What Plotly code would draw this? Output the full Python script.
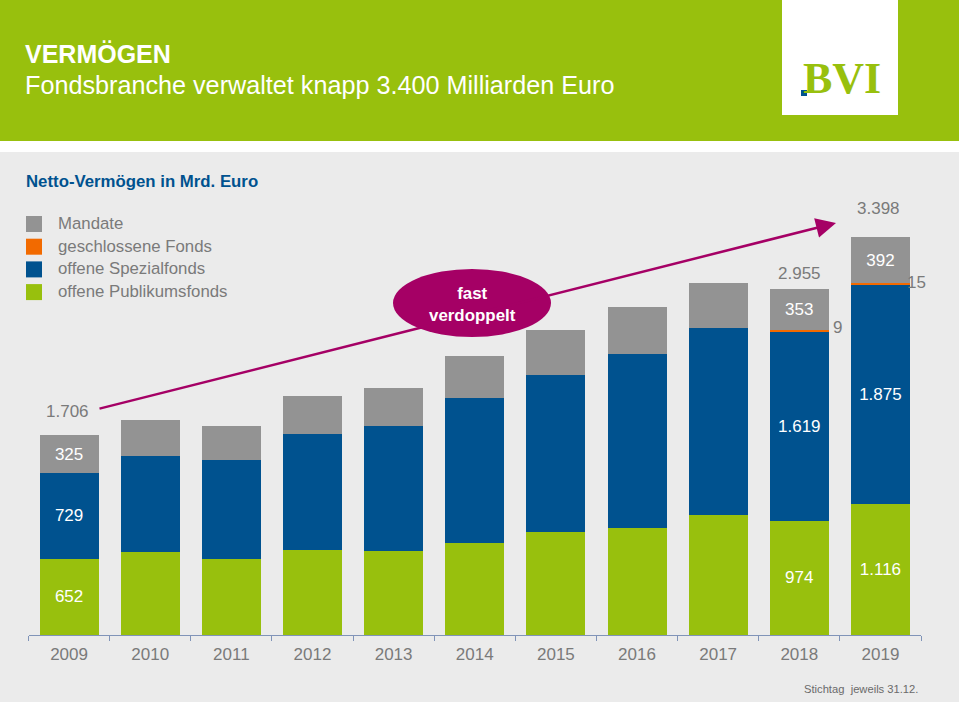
import plotly.graph_objs as go

years = ["2009", "2010", "2011", "2012", "2013", "2014", "2015", "2016", "2017", "2018", "2019"]
publikum = [652, 709, 650, 726, 717, 786, 880, 914, 1025, 974, 1116]
spezial = [729, 820, 845, 990, 1068, 1238, 1341, 1486, 1597, 1619, 1875]
geschlossen = [0, 0, 0, 0, 0, 0, 0, 0, 0, 9, 15]
mandate = [325, 307, 290, 325, 325, 359, 384, 400, 384, 353, 392]
legend_names = ["Mandate", "geschlossene Fonds", "offene Spezialfonds", "offene Publikumsfonds"]
labelled_years = ["2009", "2018", "2019"]

GREEN = "#98C00D"
BLUE = "#00528F"
ORANGE = "#F26A00"
GREY = "#939393"
PURPLE = "#A50065"
TEXT = "#7A7A7A"
FONT = "Liberation Sans"
W, H = 959, 704


def px(x):
    return x / W


def py(y):
    return 1 - y / H


def fmt(v):
    return f"{v:,}".replace(",", ".")


def labels(values):
    return [fmt(v) if y in labelled_years else "" for y, v in zip(years, values)]


def text_at(x, y, text, size, color=TEXT, bold=False, anchor="left"):
    # annotations carry about 2px of padding, take it back out
    nudge = {"left": -2, "right": 2, "center": 0}[anchor]
    return dict(x=px(x + nudge), y=py(y), xref="paper", yref="paper", xanchor=anchor, yanchor="middle",
                text=f"<b>{text}</b>" if bold else text, showarrow=False,
                font=dict(family=FONT, size=size, color=color))


fig = go.Figure()
for name, values, color in [("offene Publikumsfonds", publikum, GREEN),
                            ("offene Spezialfonds", spezial, BLUE),
                            ("geschlossene Fonds", geschlossen, ORANGE),
                            ("Mandate", mandate, GREY)]:
    show_text = name != "geschlossene Fonds"
    fig.add_trace(go.Bar(
        x=years, y=values, name=name, marker=dict(color=color, line=dict(width=0)),
        text=labels(values) if show_text else None,
        textposition="inside" if show_text else "none", insidetextanchor="middle", textangle=0,
        constraintext="none", insidetextfont=dict(family=FONT, size=17, color="white")))

# header, panel and logo
shapes = [
    dict(type="rect", x0=0, x1=1, y0=py(141), y1=1, fillcolor=GREEN),
    dict(type="rect", x0=0, x1=1, y0=py(702), y1=py(152), fillcolor="#EBEBEB"),
    dict(type="rect", x0=px(782), x1=px(898), y0=py(115), y1=1, fillcolor="white"),
    dict(type="rect", x0=px(801), x1=px(807), y0=py(96), y1=py(90), fillcolor=BLUE),
]
shapes = [dict(s, xref="paper", yref="paper", layer="below", line=dict(width=0)) for s in shapes]

annotations = [
    text_at(25, 54, "VERMÖGEN", 25, "white", bold=True),
    text_at(25, 85, "Fondsbranche verwaltet knapp 3.400 Milliarden Euro", 25.2, "white"),
    dict(text_at(842, 78, "BVI", 44, GREEN, bold=True, anchor="center"),
         font=dict(family="Liberation Serif", size=44, color=GREEN)),
    text_at(26, 181, "Netto-Vermögen in Mrd. Euro", 16.8, BLUE, bold=True),
    text_at(918, 689, "Stichtag  jeweils 31.12.", 11.2, "#6A6A6A", anchor="right"),
    # arrow across the bars
    dict(x=px(836), y=py(223), xref="paper", yref="paper", ax=-738, ay=186, axref="pixel", ayref="pixel",
         text="", showarrow=True, arrowhead=2, arrowsize=1.6, arrowwidth=2.5, arrowcolor=PURPLE, standoff=0),
    text_at(472, 304, "fast<br>verdoppelt", 16.9, "white", bold=True, anchor="center"),
]

# legend, drawn by hand so the swatches stay square
for i, (name, color) in enumerate(zip(legend_names, [GREY, ORANGE, BLUE, GREEN])):
    yc = 224 + i * 22.7
    shapes.append(dict(type="rect", xref="paper", yref="paper", x0=px(26), x1=px(42), y0=py(yc + 8), y1=py(yc - 8),
                       fillcolor=color, line=dict(width=0), layer="below"))
    annotations.append(text_at(58, yc - 0.5, name, 16.8))

shapes.append(dict(type="circle", xref="paper", yref="paper", x0=px(393), x1=px(551), y0=py(337), y1=py(269),
                   fillcolor=PURPLE, line=dict(width=0), layer="above"))

# totals above the labelled bars, small closed-fund values beside them
# (category annotations take the position index, not the label)
totals = [a + b + c + d for a, b, c, d in zip(publikum, spezial, geschlossen, mandate)]
for year, xshift, yshift in [("2009", -2, 24), ("2018", 0, 16), ("2019", -2, 29)]:
    i = years.index(year)
    annotations.append(dict(x=i, y=totals[i], text=fmt(totals[i]), showarrow=False, xref="x", yref="y",
                            xshift=xshift, yshift=yshift, font=dict(family=FONT, size=17, color=TEXT)))
for year, xshift, yshift in [("2018", 38, 3), ("2019", 36, 1)]:
    i = years.index(year)
    annotations.append(dict(x=i, y=totals[i] - mandate[i], text=fmt(geschlossen[i]), showarrow=False,
                            xref="x", yref="y", xshift=xshift, yshift=yshift,
                            font=dict(family=FONT, size=17, color=TEXT)))

fig.update_layout(
    width=W, height=H, margin=dict(l=0, r=0, t=0, b=0), barmode="stack", bargap=0.273,
    showlegend=False, paper_bgcolor="white", plot_bgcolor="rgba(0,0,0,0)",
    shapes=shapes, annotations=annotations,
    xaxis=dict(domain=[px(28.5), px(921)], type="category", range=[-0.5, 10.5], tickson="boundaries",
               ticks="outside", ticklen=5, tickcolor="#8094B8", linecolor="#8094B8", showline=True, showgrid=False,
               ticklabelstandoff=4, tickfont=dict(family=FONT, size=17, color=TEXT)),
    yaxis=dict(domain=[py(635), py(152)], range=[0, 4125], visible=False),
)
fig.write_html("out.html", config=dict(displayModeBar=False), post_script="document.body.style.margin = '0';")
